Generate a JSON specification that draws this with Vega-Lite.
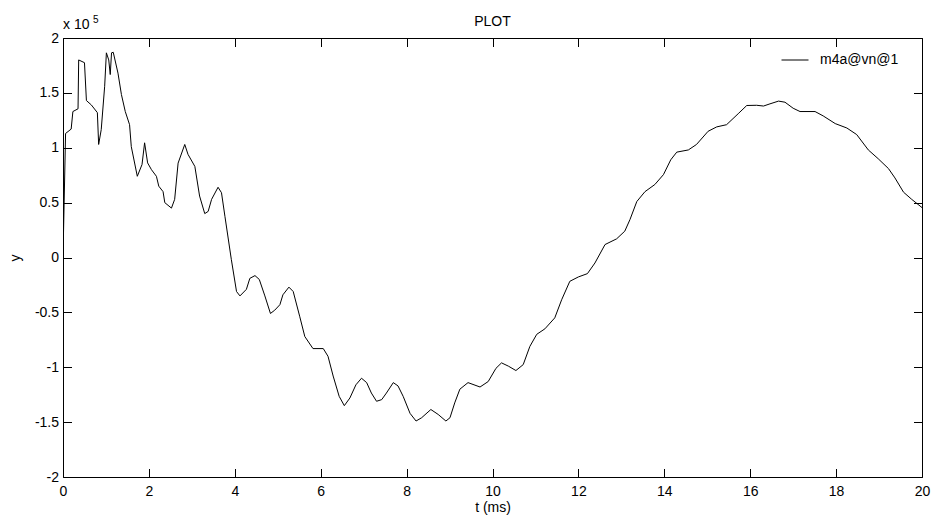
{
  "$schema": "https://vega.github.io/schema/vega-lite/v6.json",
  "width": 859,
  "height": 439,
  "autosize": {"type": "none"},
  "padding": {"left": 63, "top": 38, "right": 11, "bottom": 39},
  "background": "white",
  "config": {
    "font": "Liberation Sans",
    "view": {"stroke": null},
    "axis": {
      "grid": false,
      "domainColor": "black",
      "domainWidth": 1,
      "tickColor": "black",
      "tickWidth": 1,
      "tickSize": -8.5,
      "labelColor": "black",
      "labelFontSize": 14,
      "labelFont": "Liberation Sans",
      "titleColor": "black",
      "titleFontSize": 14,
      "titleFontWeight": "normal",
      "titleFont": "Liberation Sans",
      "labelFlush": false,
      "labelOverlap": false
    }
  },
  "title": {
    "text": "PLOT",
    "fontSize": 14,
    "fontWeight": "normal",
    "color": "black",
    "font": "Liberation Sans",
    "anchor": "middle",
    "baseline": "alphabetic",
    "offset": -25
  },
  "data": {
    "values": [
      {"t": 0, "y": 0},
      {"t": 0.06, "y": 113000},
      {"t": 0.19, "y": 117000},
      {"t": 0.23, "y": 133000},
      {"t": 0.35, "y": 135500},
      {"t": 0.365, "y": 180000},
      {"t": 0.5, "y": 177500},
      {"t": 0.545, "y": 143000},
      {"t": 0.66, "y": 139000},
      {"t": 0.8, "y": 132000},
      {"t": 0.83, "y": 103000},
      {"t": 0.89, "y": 116500},
      {"t": 0.97, "y": 156000},
      {"t": 1.01, "y": 186500},
      {"t": 1.065, "y": 180000},
      {"t": 1.1, "y": 166700},
      {"t": 1.13, "y": 186500},
      {"t": 1.17, "y": 187000},
      {"t": 1.28, "y": 168000},
      {"t": 1.36, "y": 148500},
      {"t": 1.45, "y": 133000},
      {"t": 1.55, "y": 121000},
      {"t": 1.59, "y": 101000},
      {"t": 1.73, "y": 74000},
      {"t": 1.84, "y": 84700},
      {"t": 1.9, "y": 104500},
      {"t": 1.97, "y": 86200},
      {"t": 2.06, "y": 80000},
      {"t": 2.175, "y": 74000},
      {"t": 2.23, "y": 65000},
      {"t": 2.33, "y": 60000},
      {"t": 2.37, "y": 50000},
      {"t": 2.525, "y": 45000},
      {"t": 2.6, "y": 53000},
      {"t": 2.68, "y": 86000},
      {"t": 2.835, "y": 103000},
      {"t": 2.91, "y": 94000},
      {"t": 3.07, "y": 83000},
      {"t": 3.18, "y": 56000},
      {"t": 3.3, "y": 40000},
      {"t": 3.38, "y": 42000},
      {"t": 3.46, "y": 53000},
      {"t": 3.61, "y": 64000},
      {"t": 3.69, "y": 59000},
      {"t": 3.77, "y": 37500},
      {"t": 3.92, "y": -2000},
      {"t": 4.04, "y": -31000},
      {"t": 4.12, "y": -35000},
      {"t": 4.27, "y": -29000},
      {"t": 4.35, "y": -19000},
      {"t": 4.47, "y": -16500},
      {"t": 4.57, "y": -20000},
      {"t": 4.7, "y": -35000},
      {"t": 4.83, "y": -51000},
      {"t": 4.93, "y": -48000},
      {"t": 5.05, "y": -43000},
      {"t": 5.12, "y": -34000},
      {"t": 5.26, "y": -27000},
      {"t": 5.36, "y": -31000},
      {"t": 5.51, "y": -53500},
      {"t": 5.63, "y": -72000},
      {"t": 5.82, "y": -83000},
      {"t": 6.06, "y": -83000},
      {"t": 6.17, "y": -90000},
      {"t": 6.29, "y": -108000},
      {"t": 6.43, "y": -126500},
      {"t": 6.55, "y": -135000},
      {"t": 6.68, "y": -128000},
      {"t": 6.82, "y": -116000},
      {"t": 6.95, "y": -110000},
      {"t": 7.07, "y": -114000},
      {"t": 7.18, "y": -123500},
      {"t": 7.3, "y": -131000},
      {"t": 7.42, "y": -129500},
      {"t": 7.53, "y": -123500},
      {"t": 7.69, "y": -114000},
      {"t": 7.8, "y": -117000},
      {"t": 7.92, "y": -126500},
      {"t": 8.08, "y": -142000},
      {"t": 8.22, "y": -149000},
      {"t": 8.35, "y": -146000},
      {"t": 8.565, "y": -138500},
      {"t": 8.735, "y": -143000},
      {"t": 8.915, "y": -149000},
      {"t": 9.01, "y": -146000},
      {"t": 9.12, "y": -132500},
      {"t": 9.24, "y": -120000},
      {"t": 9.43, "y": -114000},
      {"t": 9.71, "y": -118000},
      {"t": 9.9, "y": -113000},
      {"t": 10.08, "y": -101000},
      {"t": 10.21, "y": -96000},
      {"t": 10.37, "y": -99000},
      {"t": 10.545, "y": -103000},
      {"t": 10.715, "y": -97600},
      {"t": 10.87, "y": -81000},
      {"t": 11.03, "y": -70000},
      {"t": 11.22, "y": -65000},
      {"t": 11.45, "y": -55000},
      {"t": 11.61, "y": -38500},
      {"t": 11.8, "y": -21700},
      {"t": 12.0, "y": -17700},
      {"t": 12.21, "y": -14700},
      {"t": 12.385, "y": -5000},
      {"t": 12.62, "y": 11800},
      {"t": 12.89, "y": 17000},
      {"t": 13.08, "y": 24000},
      {"t": 13.2, "y": 34500},
      {"t": 13.36, "y": 51000},
      {"t": 13.55, "y": 60000},
      {"t": 13.78, "y": 66500},
      {"t": 13.98, "y": 75500},
      {"t": 14.15, "y": 89000},
      {"t": 14.29, "y": 96000},
      {"t": 14.56, "y": 98000},
      {"t": 14.75, "y": 103000},
      {"t": 15.02, "y": 115000},
      {"t": 15.22, "y": 119000},
      {"t": 15.45, "y": 121000},
      {"t": 15.72, "y": 131000},
      {"t": 15.92, "y": 138500},
      {"t": 16.15, "y": 138700},
      {"t": 16.31, "y": 138000},
      {"t": 16.46, "y": 140000},
      {"t": 16.66, "y": 142500},
      {"t": 16.81, "y": 141500},
      {"t": 17.0, "y": 136000},
      {"t": 17.16, "y": 133000},
      {"t": 17.51, "y": 133000},
      {"t": 17.7, "y": 129000},
      {"t": 17.98, "y": 122000},
      {"t": 18.25, "y": 118000},
      {"t": 18.48, "y": 112000},
      {"t": 18.75, "y": 98000},
      {"t": 18.98, "y": 90000},
      {"t": 19.22, "y": 81000},
      {"t": 19.37, "y": 72500},
      {"t": 19.57, "y": 59500},
      {"t": 19.76, "y": 53000},
      {"t": 20.0, "y": 45500}
    ]
  },
  "layer": [
    {
      "mark": {"type": "line", "strokeWidth": 1, "interpolate": "linear", "clip": true},
      "encoding": {
        "x": {
          "field": "t",
          "type": "quantitative",
          "scale": {"domain": [0, 20], "nice": false, "zero": false},
          "axis": {
            "orient": "bottom",
            "title": "t (ms)",
            "values": [0, 2, 4, 6, 8, 10, 12, 14, 16, 18, 20],
            "labelPadding": 16,
            "titlePadding": 2
          }
        },
        "y": {
          "field": "y",
          "type": "quantitative",
          "scale": {"domain": [-200000, 200000], "nice": false, "zero": false},
          "axis": {
            "orient": "left",
            "title": "y",
            "values": [-200000, -150000, -100000, -50000, 0, 50000, 100000, 150000, 200000],
            "labelExpr": "'' + (datum.value / 100000)",
            "labelPadding": 13,
            "titlePadding": 12
          }
        },
        "color": {
          "datum": "m4a@vn@1",
          "type": "nominal",
          "scale": {"range": ["black"]},
          "legend": {
            "orient": "none",
            "legendX": 718,
            "legendY": 8,
            "title": null,
            "symbolType": "stroke",
            "symbolSize": 729,
            "symbolStrokeWidth": 1,
            "labelFontSize": 14,
            "labelFont": "Liberation Sans",
            "labelColor": "black",
            "labelOffset": 11
          }
        }
      }
    },
    {
      "mark": {"type": "line", "strokeOpacity": 0},
      "encoding": {
        "x": {
          "field": "t",
          "type": "quantitative",
          "axis": {
            "orient": "top",
            "title": null,
            "labels": false,
            "values": [0, 2, 4, 6, 8, 10, 12, 14, 16, 18, 20]
          }
        },
        "y": {
          "field": "y",
          "type": "quantitative",
          "axis": {
            "orient": "right",
            "title": null,
            "labels": false,
            "values": [-200000, -150000, -100000, -50000, 0, 50000, 100000, 150000, 200000]
          }
        }
      }
    },
    {
      "data": {"values": [{"label": "x 10"}]},
      "mark": {"type": "text", "align": "left", "baseline": "alphabetic", "fontSize": 14, "font": "Liberation Sans", "color": "black", "dy": -9},
      "encoding": {
        "text": {"field": "label"},
        "x": {"datum": 0, "type": "quantitative", "axis": null},
        "y": {"datum": 200000, "type": "quantitative", "axis": null}
      }
    },
    {
      "data": {"values": [{"label": "5"}]},
      "mark": {"type": "text", "align": "left", "baseline": "alphabetic", "fontSize": 10, "font": "Liberation Sans", "color": "black", "dx": 30, "dy": -15},
      "encoding": {
        "text": {"field": "label"},
        "x": {"datum": 0, "type": "quantitative", "axis": null},
        "y": {"datum": 200000, "type": "quantitative", "axis": null}
      }
    }
  ],
  "resolve": {"axis": {"x": "independent", "y": "independent"}}
}
